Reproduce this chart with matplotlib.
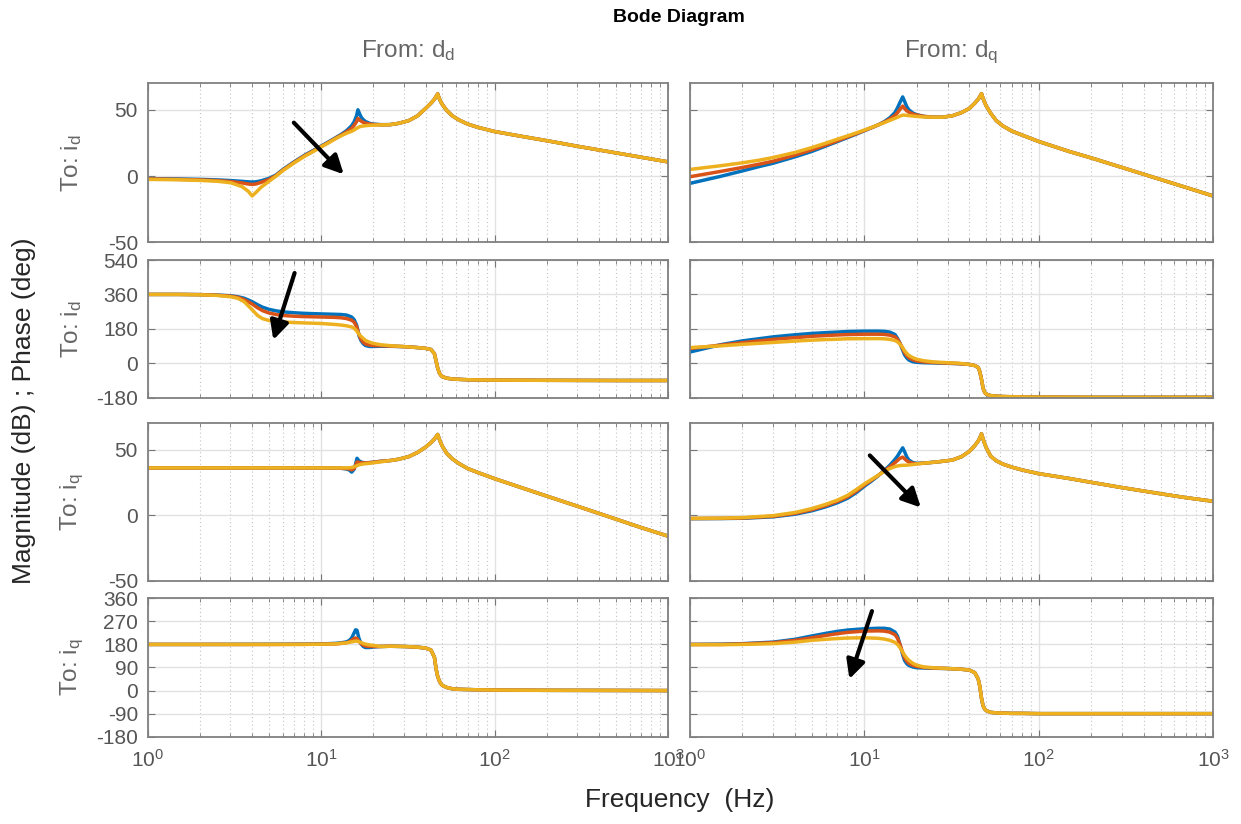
import matplotlib.pyplot as plt
from matplotlib.ticker import LogLocator, NullFormatter

plt.rcParams['font.family'] = ['Liberation Sans', 'DejaVu Sans']
plt.rcParams['mathtext.fontset'] = 'custom'
plt.rcParams['mathtext.rm'] = 'Liberation Sans'
plt.rcParams['mathtext.it'] = 'Liberation Sans'
plt.rcParams['mathtext.bf'] = 'Liberation Sans:bold'
plt.rcParams['axes.unicode_minus'] = False

# ---- data (Hz, dB / deg) ----
# magnitude, from d_d to i_d
f11 = [1, 1.5, 2, 2.5, 3, 3.5, 3.8, 4, 4.2, 4.5, 5, 5.5, 6, 7, 8, 9, 10, 11, 12, 13,
       14, 15, 15.5, 16, 16.3, 16.6, 17, 17.5, 18, 19, 20, 22,
       25, 28, 32, 36, 40, 43, 45, 46, 47, 48, 49, 50, 53, 57, 62, 70, 80, 100,
       150, 200, 300, 500, 700, 1000]
t11 = [38.8, 39.8, 41.8, 45.5, 51.0, 55.0, 58.0, 60.0, 62.0, 58.5, 56.0, 54.0, 49.5,
       45.5, 42.5, 39.2, 36.8, 33.6, 29.5, 26.7, 22.5, 17.5, 14.2, 10.7]
b11 = [-2.0, -2.2, -2.5, -2.9, -3.4, -4.0, -4.4, -4.5, -4.4, -3.6, -1.8, 0.8, 4.8, 10.8,
       15.6, 19.3, 22.6, 25.7, 28.6, 31.3, 34.2, 38.0, 41.0, 45.5, 50.0, 47.5, 44.5,
       42.5, 41.2, 39.8, 39.2, 38.8] + t11
r11 = [-2.2, -2.5, -2.9, -3.4, -4.1, -5.2, -6.0, -6.3, -6.0, -4.8, -2.6, 0.4, 4.4, 10.4,
       15.2, 18.9, 22.3, 25.3, 28.2, 30.8, 33.3, 36.0, 38.3, 41.0, 43.5, 42.5, 41.5,
       40.5, 40.0, 39.3, 38.9, 38.7] + t11
y11 = [-2.5, -2.8, -3.3, -3.9, -5.0, -8.0, -11.5, -15.0, -12.5, -8.5, -4.0, 0.0, 4.0,
       10.0, 14.8, 18.5, 22.0, 25.0, 27.9, 30.3, 32.3, 33.8, 34.8, 36.0, 36.6, 37.1,
       37.5, 37.8, 38.0, 38.3, 38.4, 38.6] + t11

# magnitude, from d_q to i_d
f12 = [1, 1.5, 2, 2.5, 3, 4, 5, 6, 7, 8, 9, 10, 11, 12, 13, 14, 15, 15.5, 16, 16.6,
       17, 17.5, 18, 19, 20, 22,
       25, 28, 32, 36, 40, 43, 45, 46, 47, 48, 49, 50, 53, 57, 62, 70, 80, 100,
       150, 200, 300, 500, 700, 1000]
t12 = [44.4, 44.4, 45.5, 47.8, 51.0, 55.0, 58.0, 60.0, 62.2, 58.5, 55.5, 53.0, 47.5,
       42.0, 38.0, 34.0, 31.0, 26.1, 18.5, 13.7, 6.5, -2.6, -8.6, -15.0]
b12 = [-5.5, -0.2, 3.9, 7.2, 9.7, 14.5, 18.6, 22.6, 26.0, 29.0, 31.7, 34.2, 36.5, 38.6,
       41.0, 44.0, 48.0, 51.5, 55.5, 59.7, 56.5, 52.5, 50.0, 47.5, 46.3, 45.0] + t12
r12 = [-0.5, 3.5, 6.5, 9.0, 11.2, 15.8, 19.8, 23.4, 26.6, 29.5, 32.0, 34.4, 36.5, 38.6,
       40.7, 43.0, 45.8, 47.8, 50.3, 52.8, 51.0, 49.3, 48.2, 46.8, 46.0, 45.0] + t12
y12 = [5.0, 7.8, 10.0, 12.0, 14.0, 17.8, 21.5, 24.8, 27.8, 30.3, 32.6, 34.7, 36.7, 38.6,
       40.3, 42.0, 43.6, 44.4, 45.2, 46.0, 46.0, 45.8, 45.6, 45.3, 45.0, 44.6] + t12

# phase, from d_d to i_d
f21 = [1, 1.5, 2, 2.5, 3, 3.3, 3.6, 4, 4.3, 4.6, 5, 5.5, 6, 7, 8, 10, 12, 13, 14, 15,
       15.5, 16, 16.3, 16.6, 17, 17.5, 18, 19, 20, 22, 25,
       30, 35, 40, 43, 45, 46, 47, 48, 49, 50, 53, 57, 62, 70, 80, 100, 200, 500, 1000]
t21 = [87, 83, 78, 72, 50, 12, -25, -50, -63, -70, -78, -82, -84, -86, -87, -88, -89,
       -90, -90]
b21 = [360, 360, 359, 357, 353, 348, 340, 322, 306, 293, 282, 274, 269, 264, 261, 258,
       256, 255, 252, 242, 228, 200, 170, 140, 118, 102, 93, 88, 88, 89, 89] + t21
r21 = [360, 360, 359, 356, 351, 345, 333, 310, 290, 275, 263, 255, 250, 246, 244, 242,
       240, 238, 234, 225, 215, 192, 168, 145, 125, 110, 101, 95, 93, 92, 90] + t21
y21 = [360, 360, 358, 355, 348, 340, 322, 280, 250, 233, 224, 219, 216, 213, 211, 208,
       203, 200, 196, 190, 183, 170, 160, 150, 140, 130, 120, 110, 104, 97, 92] + t21

# phase, from d_q to i_d
f22 = [1, 1.5, 2, 3, 4, 5, 6, 7, 8, 10, 12, 13, 14, 15, 15.5, 16, 16.6, 17, 17.5, 18,
       19, 20, 22, 25, 30, 35,
       40, 43, 45, 46, 47, 48, 49, 50, 53, 57, 62, 70, 80, 100, 200, 500, 1000]
t22 = [-6, -12, -22, -45, -85, -130, -152, -161, -169, -172, -174, -175, -176, -177,
       -178, -178, -178]
b22 = [59, 97, 117, 138, 149, 156, 160, 163, 166, 168, 168, 167, 163, 150, 130, 105, 68,
       45, 28, 17, 8, 5, 3, 2, 0, -2] + t22
r22 = [77, 95, 108, 125, 134, 141, 145, 148, 150, 152, 152, 151, 147, 138, 125, 105, 76,
       56, 40, 29, 18, 12, 7, 4, 1, -2] + t22
y22 = [82, 91, 99, 109, 116, 121, 124, 126, 128, 129, 129, 128, 125, 119, 112, 100, 82,
       66, 52, 41, 29, 21, 13, 7, 3, 0] + t22

# magnitude, from d_d to i_q
f31 = [1, 2, 5, 8, 10, 12, 13, 14, 14.5, 15, 15.5, 15.8, 16.1, 16.5, 17, 17.5, 18, 19,
       20, 22,
       25, 28, 32, 36, 40, 43, 45, 46, 47, 48, 49, 50, 53, 57, 62, 70, 80, 100,
       150, 200, 300, 500, 700, 1000]
t31 = [41.6, 42.6, 44.6, 47.8, 51.8, 55.3, 58.0, 59.8, 61.5, 58.0, 55.0, 52.5, 47.0,
       43.0, 39.5, 35.5, 32.5, 27.8, 20.0, 14.5, 6.8, -3.0, -9.5, -16.0]
b31 = [36.0, 36.0, 36.0, 36.0, 36.0, 35.9, 35.7, 35.2, 34.5, 32.8, 35.0, 39.0, 43.3,
       41.5, 40.5, 40.0, 39.9, 40.0, 40.3, 41.0] + t31
r31 = [36.0, 36.0, 36.0, 36.0, 36.0, 35.9, 35.8, 35.5, 35.2, 34.5, 35.5, 38.0, 40.5,
       40.3, 40.0, 39.8, 39.8, 40.0, 40.3, 41.0] + t31
y31 = [36.0, 36.0, 36.0, 36.0, 36.0, 36.0, 36.0, 36.0, 36.1, 36.3, 36.8, 37.3, 37.8,
       38.3, 38.7, 39.0, 39.2, 39.5, 39.9, 40.6] + t31

# magnitude, from d_q to i_q
f32 = [1, 1.5, 2, 3, 4, 5, 6, 7, 8, 9, 10, 11, 12, 13, 14, 15, 15.5, 16, 16.6, 17,
       17.5, 18, 19, 20, 22,
       25, 28, 32, 36, 40, 43, 45, 46, 47, 48, 49, 50, 53, 57, 62, 70, 80, 100,
       150, 200, 300, 500, 700, 1000]
t32 = [40.3, 41.0, 42.0, 44.5, 48.5, 53.0, 56.5, 59.0, 62.0, 58.0, 54.5, 51.5, 45.0,
       41.5, 39.0, 36.6, 34.5, 31.6, 27.9, 25.0, 21.0, 16.3, 13.3, 10.6]
b32 = [-2.7, -2.6, -2.4, -1.3, 0.7, 3.3, 6.3, 9.4, 12.8, 17.2, 22.0, 26.0, 30.0, 34.0,
       38.0, 42.5, 45.0, 48.0, 51.3, 48.5, 44.5, 42.0, 40.0, 39.5, 39.7] + t32
r32 = [-2.6, -2.5, -2.2, -0.9, 1.3, 4.1, 7.2, 10.4, 13.9, 18.3, 22.9, 26.7, 30.2, 33.7,
       36.8, 40.0, 41.7, 43.3, 44.2, 43.0, 41.5, 40.5, 39.5, 39.2, 39.6] + t32
y32 = [-2.5, -2.3, -1.9, -0.4, 2.0, 5.0, 8.2, 11.4, 15.0, 19.5, 23.8, 27.2, 30.3, 33.3,
       35.5, 37.0, 37.5, 37.8, 38.0, 38.0, 38.1, 38.2, 38.6, 39.0, 39.6] + t32

# phase, from d_d to i_q
f41 = [1, 2, 5, 8, 10, 12, 13, 14, 14.5, 15, 15.5, 15.8, 16.1, 16.5, 17, 17.5, 18, 19,
       20,
       22, 25, 30, 35, 40, 43, 45, 46, 47, 48, 49, 50, 53, 57, 62, 70, 80, 100, 200,
       500, 1000]
t41 = [172, 173, 172, 170, 166, 158, 130, 85, 55, 38, 27, 20, 12, 7, 5, 4, 3, 2, 1,
       0.5, 0]
b41 = [180, 180, 180.5, 181, 182, 184, 186, 190, 195, 205, 225, 237, 235, 205, 182, 172,
       168, 168, 170] + t41
r41 = [180, 180, 180, 180.5, 181, 182, 184, 187, 190, 196, 203, 205, 203, 193, 183, 177,
       174, 172, 172] + t41
y41 = [180, 180, 180, 180, 181, 182, 184, 186, 188, 190, 192, 193, 193, 191, 187, 184,
       181, 178, 176] + t41

# phase, from d_q to i_q
f42 = [1, 1.5, 2, 3, 4, 5, 6, 7, 8, 10, 12, 13, 14, 15, 15.5, 16, 16.6, 17, 17.5, 18,
       19, 20, 22, 25,
       30, 35, 40, 43, 45, 46, 47, 48, 49, 50, 53, 57, 62, 70, 80, 100, 200, 500, 1000]
t42 = [86, 84, 80, 70, 45, 15, -30, -60, -72, -78, -85, -87, -88, -89, -89, -90, -90,
       -90, -90]
b42 = [180, 181, 183, 189, 200, 213, 223, 231, 236, 241, 243, 243, 240, 228, 212, 180,
       140, 118, 105, 98, 92, 89, 88, 87] + t42
r42 = [180, 180, 182, 187, 196, 206, 215, 222, 227, 232, 233, 232, 228, 218, 204, 180,
       148, 128, 115, 106, 98, 94, 90, 88] + t42
y42 = [179, 179, 180, 183, 189, 196, 200, 203, 205, 206, 204, 201, 196, 188, 180, 168,
       150, 138, 127, 118, 106, 99, 92, 89] + t42

col_titles = ['From: d$_{\\rm d}$', 'From: d$_{\\rm q}$']
row_titles = ['To: i$_{\\rm d}$', 'To: i$_{\\rm d}$', 'To: i$_{\\rm q}$', 'To: i$_{\\rm q}$']
mag_ticks = [-50, 0, 50]
ph_ticks_d = [-180, 0, 180, 360, 540]
ph_ticks_q = [-180, -90, 0, 90, 180, 270, 360]

colors = ['#0072BD', '#D95319', '#EDB120']
gray = '#555555'

# ---- layout (pixels of a 1241 x 824 figure) ----
W, H = 1241, 824
col_x = [(147.7, 668.0), (690.0, 1213.0)]
row_y = [(83.3, 242.3), (260.0, 397.7), (423.3, 580.7), (598.3, 736.7)]

fig = plt.figure(figsize=(W / 100, H / 100), dpi=100)

panels = {
    (0, 0): (f11, [b11, r11, y11]), (0, 1): (f12, [b12, r12, y12]),
    (1, 0): (f21, [b21, r21, y21]), (1, 1): (f22, [b22, r22, y22]),
    (2, 0): (f31, [b31, r31, y31]), (2, 1): (f32, [b32, r32, y32]),
    (3, 0): (f41, [b41, r41, y41]), (3, 1): (f42, [b42, r42, y42]),
}
ylims = [(-50, 70), (-180, 540), (-50, 70), (-180, 360)]
yticks = [mag_ticks, ph_ticks_d, mag_ticks, ph_ticks_q]

axes = {}
for (r, c), (f, series) in panels.items():
    x0, x1 = col_x[c]
    y0, y1 = row_y[r]
    ax = fig.add_axes([x0 / W, 1 - y1 / H, (x1 - x0) / W, (y1 - y0) / H])
    axes[(r, c)] = ax
    for s, col in zip(series, colors):
        ax.plot(f, s, color=col, lw=2.5, solid_joinstyle='round')
    ax.set_xscale('log')
    ax.set_xlim(1, 1000)
    ax.set_ylim(*ylims[r])
    ax.set_yticks(yticks[r])
    ax.xaxis.set_major_locator(LogLocator(base=10, numticks=10))
    ax.xaxis.set_minor_locator(LogLocator(base=10, subs=range(2, 10), numticks=10))
    ax.xaxis.set_minor_formatter(NullFormatter())
    ax.set_axisbelow(True)
    ax.grid(True, which='major', color='#e2e2e2', lw=1.0, ls='-')
    ax.grid(True, which='minor', axis='x', color='#c4c4c4', lw=0.8, ls=(0, (1, 2.5)))
    ax.tick_params(which='both', direction='in', top=True, right=True, color='#777777',
                   labelcolor=gray, labelsize=15)
    ax.tick_params(which='major', length=5)
    ax.tick_params(which='minor', length=3)
    ax.tick_params(axis='y', pad=7)
    ax.tick_params(axis='x', pad=9)
    for sp in ax.spines.values():
        sp.set_color('#808080')
        sp.set_linewidth(1.3)
    if c == 1:
        ax.set_yticklabels([])
    if r < 3:
        ax.set_xticklabels([])

# arrows showing the trend between the three cases
arrow = dict(arrowstyle='-|>', color='black', lw=3.0, mutation_scale=28,
             shrinkA=0, shrinkB=0)
axes[(0, 0)].annotate('', xy=(13.5, 1.3), xytext=(6.96, 40.3), arrowprops=arrow)
axes[(1, 0)].annotate('', xy=(5.3, 122), xytext=(7.03, 472), arrowprops=arrow)
axes[(2, 1)].annotate('', xy=(21.1, 5.8), xytext=(10.75, 45.5), arrowprops=arrow)
axes[(3, 1)].annotate('', xy=(8.21, 45), xytext=(11.06, 310), arrowprops=arrow)

# titles and labels
fig.text(679 / W, 1 - 22 / H, 'Bode Diagram', ha='center', va='baseline',
         fontsize=14, fontweight='bold', color='black')
for c, t in enumerate(col_titles):
    xc = (col_x[c][0] + col_x[c][1]) / 2
    fig.text(xc / W, 1 - 57 / H, t, ha='center', va='baseline', fontsize=17.5,
             color='#666666')
for r, t in enumerate(row_titles):
    yc = (row_y[r][0] + row_y[r][1]) / 2
    fig.text(72 / W, 1 - yc / H, t, ha='center', va='center', rotation=90,
             fontsize=17.5, color='#666666')
fig.text(24 / W, 1 - 411 / H, 'Magnitude (dB) ; Phase (deg)', ha='center',
         va='center', rotation=90, fontsize=19, color='#262626')
fig.text(680 / W, 1 - 800 / H, 'Frequency  (Hz)', ha='center', va='center',
         fontsize=19, color='#262626')

fig.savefig('out.png', dpi=100, facecolor='white')
